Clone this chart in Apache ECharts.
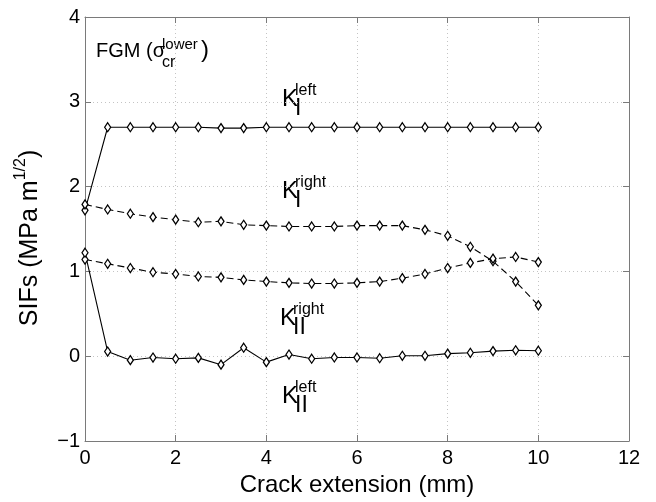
<!DOCTYPE html>
<html>
<head>
<meta charset="utf-8">
<script src="https://cdn.jsdelivr.net/npm/echarts@6/dist/echarts.min.js"></script>
<style>
html,body{margin:0;padding:0;background:#fff;}
#c{width:656px;height:502px;}
</style>
</head>
<body>
<div id="c"></div>
<script>
const crackExt = [0,0.5,1,1.5,2,2.5,3,3.5,4,4.5,5,5.5,6,6.5,7,7.5,8,8.5,9,9.5,10];
const KI_left  = [1.72,2.70,2.70,2.70,2.70,2.70,2.69,2.69,2.70,2.70,2.70,2.70,2.70,2.70,2.70,2.70,2.70,2.70,2.70,2.70,2.70];
const KI_right = [1.79,1.73,1.68,1.64,1.61,1.58,1.59,1.55,1.54,1.53,1.53,1.53,1.54,1.54,1.54,1.49,1.42,1.29,1.12,0.88,0.60];
const KII_right= [1.14,1.09,1.04,0.99,0.97,0.94,0.93,0.90,0.88,0.865,0.857,0.857,0.865,0.88,0.92,0.97,1.04,1.10,1.15,1.17,1.11];
const KII_left = [1.22,0.055,-0.047,-0.016,-0.03,-0.02,-0.10,0.10,-0.07,0.02,-0.03,-0.015,-0.015,-0.024,0.005,0.005,0.03,0.04,0.06,0.07,0.065];
const xTicks = {min:0, max:12, interval:2};
const yTicks = {min:-1, max:4, interval:1};

const FONT = '"Liberation Sans", Arial, Helvetica, sans-serif';
const chart = echarts.init(document.getElementById('c'), null, {renderer:'canvas'});

function pairs(ys){ return crackExt.map((x,i)=>[x, ys[i]]); }

function mkSeries(name, ys, dashed){
  return {
    name, type:'line', data: pairs(ys), xAxisIndex:0, yAxisIndex:0,
    symbol:'diamond', symbolSize:[6,9], showSymbol:true,
    lineStyle:{color:'#000', width:1.1, type: dashed ? [7,4] : 'solid'},
    itemStyle:{color:'#fff', borderColor:'#000', borderWidth:1.3},
    animation:false, z:3
  };
}

const axisLineStyle = {color:'#7a7a7a', width:1};
const gridLine = {show:true, lineStyle:{color:'#c4c4c4', type:[1,3], width:1}};

function txt(x, y, s, fs){
  return {type:'text', x, y, silent:true, style:{text:s, font: fs+'px '+FONT, fill:'#000', textVerticalAlign:'middle', textAlign:'left'}};
}
function kLabel(x, yMid, sup, sub){
  return [
    txt(x, yMid, 'K', 24),
    txt(x+13, yMid-8, sup, 16),
    txt(x+13, yMid+10, sub, 23)
  ];
}

const graphics = [
  txt(96, 51, 'FGM (σ', 20),
  txt(162, 45, 'lower', 15),
  txt(162, 63, 'cr', 16),
  txt(201, 50, ')', 24),
  ...kLabel(282, 99, 'left', 'I'),
  ...kLabel(282, 191, 'right', 'I'),
  ...kLabel(280, 318, 'right', 'II'),
  ...kLabel(282, 396, 'left', 'II')
];

chart.setOption({
  backgroundColor:'#fff',
  animation:false,
  grid:{left:85, top:17, right:27, bottom:58, containLabel:false},
  xAxis:[
    {type:'value', position:'bottom', min:xTicks.min, max:xTicks.max, interval:xTicks.interval,
     axisLine:{show:true, onZero:false, lineStyle:axisLineStyle},
     axisTick:{show:true, inside:true, length:6, lineStyle:axisLineStyle},
     axisLabel:{color:'#000', fontSize:20, fontFamily:FONT, margin:7},
     splitLine:gridLine,
     name:'Crack extension (mm)', nameLocation:'middle', nameGap:32,
     nameTextStyle:{color:'#000', fontSize:24, fontFamily:FONT}},
    {type:'value', position:'top', min:xTicks.min, max:xTicks.max, interval:xTicks.interval,
     axisLine:{show:true, onZero:false, lineStyle:axisLineStyle},
     axisTick:{show:true, inside:true, length:6, lineStyle:axisLineStyle},
     axisLabel:{show:false}, splitLine:{show:false}}
  ],
  yAxis:[
    {type:'value', position:'left', min:yTicks.min, max:yTicks.max, interval:yTicks.interval,
     axisLine:{show:true, onZero:false, lineStyle:axisLineStyle},
     axisTick:{show:true, inside:true, length:6, lineStyle:axisLineStyle},
     axisLabel:{color:'#000', fontSize:20, fontFamily:FONT, margin:5,
       formatter: v => v < 0 ? '\u2212' + Math.abs(v) : String(v)},
     splitLine:gridLine,
     name:'{a|SIFs (MPa m}{b|1/2}{a|)}', nameLocation:'middle', nameGap:42, nameRotate:90,
     nameTextStyle:{color:'#000', fontFamily:FONT, padding:[0,18,0,0],
       rich:{a:{fontSize:25, fontFamily:FONT, color:'#000', lineHeight:30, verticalAlign:'bottom'},
             b:{fontSize:16, fontFamily:FONT, color:'#000', verticalAlign:'top', lineHeight:16}}}},
    {type:'value', position:'right', min:yTicks.min, max:yTicks.max, interval:yTicks.interval,
     axisLine:{show:true, onZero:false, lineStyle:axisLineStyle},
     axisTick:{show:true, inside:true, length:6, lineStyle:axisLineStyle},
     axisLabel:{show:false}, splitLine:{show:false}}
  ],
  series:[
    mkSeries('KI left', KI_left, false),
    mkSeries('KI right', KI_right, true),
    mkSeries('KII right', KII_right, true),
    mkSeries('KII left', KII_left, false)
  ],
  graphic: graphics
});
</script>
</body>
</html>
